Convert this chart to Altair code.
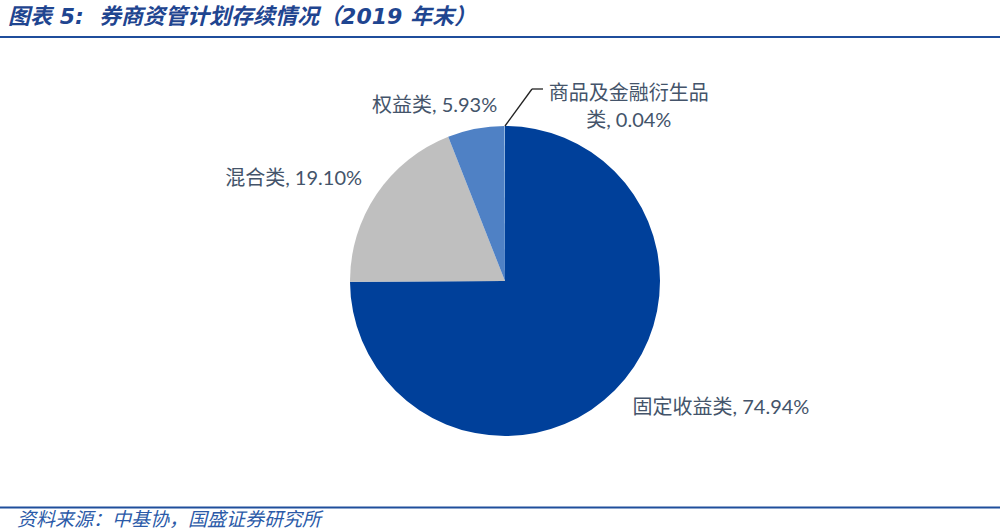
import altair as alt
import pandas as pd

categories = ["固定收益类", "混合类", "权益类", "商品及金融衍生品类"]
values = [74.94, 19.10, 5.93, 0.04]
labels = ["固定收益类, 74.94%", "混合类, 19.10%", "权益类, 5.93%", "商品及金融衍生品\n类, 0.04%"]
colors = ["#00409A", "#BFBFBF", "#4F81C5", "#9DC3E6"]
order = [0, 1, 2, 3]

title_text = "图表 5:\u00a0\u00a0券商资管计划存续情况（2019 年末）"
source_text = "资料来源：中基协，国盛证券研究所"

total = sum(values)
df = pd.DataFrame({"cat": categories, "value": values, "label": labels, "order": order})

CX, CY, R = 505, 281, 155
theta_scale = alt.Scale(domain=[0, total], range=[0, 6.283185307179586])

base = (
    alt.Chart(df)
    .transform_window(cum="sum(value)", sort=[alt.SortField("order")], frame=[None, 0])
    .transform_calculate(start="datum.cum - datum.value", mid="datum.cum - datum.value / 2")
)

arcs = base.mark_arc(outerRadius=R).encode(
    theta=alt.Theta("start:Q", scale=theta_scale),
    theta2="cum:Q",
    color=alt.Color("cat:N", scale=alt.Scale(domain=categories, range=colors), legend=None),
    x=alt.value(CX),
    y=alt.value(CY),
)

label_font = "Lato, Noto Sans CJK SC"
label_color = "#44546A"
specs = [
    ("固定收益类", "left", 0, 0),
    ("混合类", "right", 6, -1),
    ("权益类", "right", 26, 2),
    ("商品及金融衍生品类", "center", 124, -7),
]
label_layers = []
for cat, align, dx, dy in specs:
    label_layers.append(
        base.transform_filter(alt.datum.cat == cat)
        .mark_text(radius=180, align=align, baseline="middle", dx=dx, dy=dy,
                   font=label_font, fontSize=20, color=label_color,
                   lineBreak="\n", lineHeight=27)
        .encode(
            theta=alt.Theta("mid:Q", scale=theta_scale),
            text="label:N",
            x=alt.value(CX),
            y=alt.value(CY),
        )
    )

one = alt.Chart(pd.DataFrame({"a": [0]}))
leader1 = one.mark_rule(color="#222222", strokeWidth=1.3).encode(
    x=alt.value(505), y=alt.value(126), x2=alt.value(532), y2=alt.value(89))
leader2 = one.mark_rule(color="#222222", strokeWidth=1.3).encode(
    x=alt.value(532), y=alt.value(89), x2=alt.value(543), y2=alt.value(89))

title = one.mark_text(align="left", baseline="middle", font="DejaVu Sans, Noto Sans CJK SC",
                      fontSize=22, fontWeight="bold", fontStyle="italic", color="#1F4590").encode(
    x=alt.value(8), y=alt.value(17), text=alt.value(title_text))
title_rule = one.mark_rule(color="#1F4E9C", strokeWidth=2).encode(
    x=alt.value(0), x2=alt.value(1000), y=alt.value(37))
foot_rule = one.mark_rule(color="#1F4E9C", strokeWidth=2).encode(
    x=alt.value(0), x2=alt.value(1000), y=alt.value(507.5))
footer = one.mark_text(align="left", baseline="middle", font="Noto Sans CJK SC",
                       fontSize=19, fontStyle="italic", color="#2B5AA8").encode(
    x=alt.value(17), y=alt.value(520), text=alt.value(source_text))

chart = alt.layer(arcs, *label_layers, leader1, leader2, title, title_rule, foot_rule, footer).properties(
    width=1000, height=531, autosize=alt.AutoSizeParams(type="none"), padding=0,
    background="white",
).configure_view(stroke=None)

chart.save("out.html", embed_options={"renderer": "svg", "actions": False})
